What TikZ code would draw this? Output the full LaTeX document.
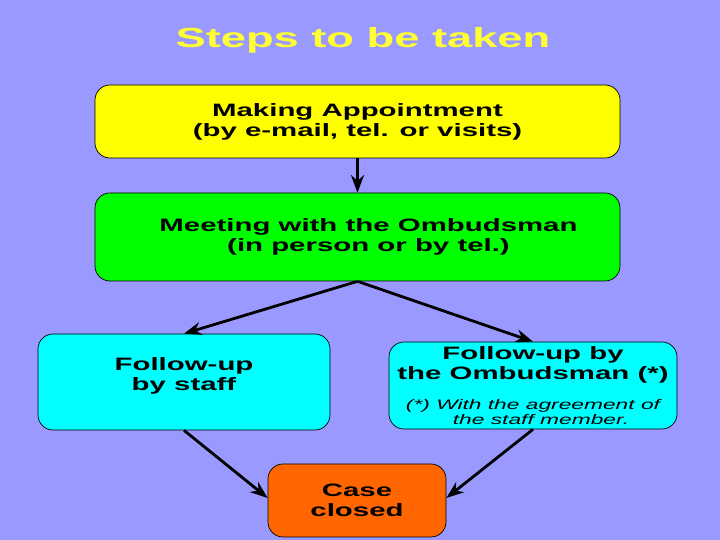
\documentclass[tikz,border=0pt]{standalone}
\usepackage{fontspec}
\setmainfont{Liberation Sans}[FakeStretch=1.64]
\usetikzlibrary{arrows.meta}
\definecolor{bgblue}{RGB}{153,153,255}
\definecolor{stepyellow}{RGB}{255,255,0}
\definecolor{titleyellow}{RGB}{255,255,51}
\definecolor{stepgreen}{RGB}{0,255,0}
\definecolor{stepcyan}{RGB}{0,255,255}
\definecolor{steporange}{RGB}{255,102,0}
\newcommand{\notefont}{\mdseries\itshape\fontsize{7.9}{8.5}\selectfont}

\tikzset{
  stepbox/.style={rectangle, rounded corners=0.3cm, draw=black, thin, align=center,
    font=\bfseries\fontsize{10.2}{11.3}\selectfont, inner sep=2pt},
  flow/.style={-{Stealth[length=3.5mm, width=2.6mm]}, line width=1.6pt}
}

\begin{document}
\begin{tikzpicture}
  % background of the slide
  \fill[bgblue] (0,0) rectangle (14.4,10.8);
  \useasboundingbox (0,0) rectangle (14.4,10.8);

  % title
  \node[text=titleyellow, font=\bfseries\fontsize{15.7}{18}\selectfont] (title) at (7.26,10.0) {Steps to be taken};

  % the steps
  \node[stepbox, fill=stepyellow, minimum width=10.5cm, minimum height=1.46cm] (appoint) at (7.15,8.37)
    {Making Appointment\\(by e-mail, tel. or visits)};
  \node[stepbox, fill=stepgreen, minimum width=10.5cm, minimum height=1.76cm] (meeting) at (7.15,6.06)
    {\hspace{0.44cm}Meeting with the Ombudsman\\\hspace{0.44cm}(in person or by tel.)};
  \node[stepbox, fill=stepcyan, minimum width=5.84cm, minimum height=1.92cm] (staff) at (3.68,3.16)
    {Follow-up\\by staff\\[-0.09cm]};
  \node[stepbox, fill=stepcyan, inner sep=0pt, minimum width=5.76cm, minimum height=1.74cm] (ombud) at (10.66,3.09)
    {Follow-up by\\the Ombudsman (*)\\[0.2cm]
     \notefont (*) With the agreement of\\[-0.1cm]\notefont\hspace{0.32cm}the staff member.};
  \node[stepbox, fill=steporange, minimum width=3.56cm, minimum height=1.46cm] (closed) at (7.14,0.79)
    {Case\\closed};

  % arrows between the steps
  \draw[flow] (appoint.south) -- (meeting.north);
  \draw[flow] (meeting.south) -- (staff.north);
  \draw[flow] (meeting.south) -- (ombud.north);
  \draw[flow] (staff.south) -- ([yshift=0.05cm]closed.west);
  \draw[flow] (ombud.south) -- ([yshift=0.05cm]closed.east);

\end{tikzpicture}
\end{document}
